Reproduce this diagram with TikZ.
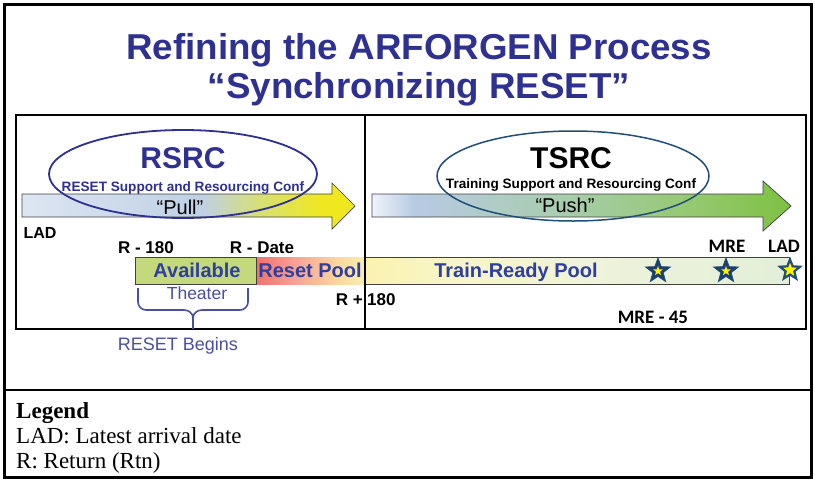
\documentclass[tikz,border=0pt]{standalone}
\usepackage{fontspec}
\setmainfont{Liberation Sans}
\newfontfamily\calib{Carlito}
\newfontfamily\tms{Liberation Serif}
\usetikzlibrary{shapes.geometric}

\definecolor{titleblue}{HTML}{2E3192}
\definecolor{barblue}{HTML}{2F3F9E}
\definecolor{softblue}{HTML}{4A4FA3}
\definecolor{ellblue}{HTML}{2E3192}
\definecolor{ellteal}{HTML}{1F4E79}
\definecolor{starnavy}{HTML}{1C3F6E}
\definecolor{availgreen}{HTML}{C4D97B}
\definecolor{edgegray}{HTML}{404040}

% colour stops for the shaded bands (path spans 25bp..75bp)
\definecolor{pullA}{HTML}{DDE6F2}
\definecolor{pullB}{HTML}{BFD0E5}
\definecolor{pullC}{HTML}{D8E070}
\definecolor{pullD}{HTML}{F0E81E}
\pgfdeclarehorizontalshading{pullshade}{100bp}{color(0bp)=(pullA); color(25bp)=(pullA); color(52bp)=(pullB); color(61bp)=(pullC); color(70bp)=(pullD); color(100bp)=(pullD)}

\definecolor{pushA}{HTML}{EFF3FA}
\definecolor{pushB}{HTML}{B8CAE4}
\definecolor{pushC}{HTML}{A9CDB0}
\definecolor{pushD}{HTML}{94C86E}
\definecolor{pushE}{HTML}{7CC142}
\pgfdeclarehorizontalshading{pushshade}{100bp}{color(0bp)=(pushA); color(25bp)=(pushA); color(30bp)=(pushB); color(47bp)=(pushC); color(64bp)=(pushD); color(75bp)=(pushE); color(100bp)=(pushE)}

\definecolor{resA}{HTML}{F07070}
\definecolor{resB}{HTML}{F6A898}
\definecolor{resC}{HTML}{FAD8A0}
\definecolor{resD}{HTML}{FBEFB0}
\pgfdeclarehorizontalshading{resetshade}{100bp}{color(0bp)=(resA); color(25bp)=(resA); color(45bp)=(resB); color(63bp)=(resC); color(75bp)=(resD); color(100bp)=(resD)}

\definecolor{trA}{HTML}{FBF2B0}
\definecolor{trB}{HTML}{F8F6C8}
\definecolor{trC}{HTML}{EEF3DA}
\definecolor{trD}{HTML}{E3EFD9}
\pgfdeclarehorizontalshading{trainshade}{100bp}{color(0bp)=(trA); color(25bp)=(trA); color(35bp)=(trB); color(52bp)=(trC); color(75bp)=(trD); color(100bp)=(trD)}

\tikzset{
  lbl/.style={anchor=base, inner sep=0pt},
  bigtitle/.style={lbl, font=\fontsize{36pt}{40pt}\selectfont\bfseries, text=titleblue, xscale=1.02},
  markbold/.style={lbl, font=\fontsize{17pt}{20pt}\selectfont\bfseries, text=black},
  calibbold/.style={lbl, font=\fontsize{19pt}{22pt}\selectfont\calib\bfseries, text=black},
  poolname/.style={lbl, font=\fontsize{20pt}{24pt}\selectfont\bfseries, text=barblue},
  confname/.style={lbl, font=\fontsize{13.6pt}{16pt}\selectfont\bfseries},
  legendtxt/.style={lbl, anchor=base west, font=\fontsize{23pt}{25pt}\selectfont\tms},
  arrowband/.style={draw=edgegray, line width=0.7pt},
  navystar/.style={star, star points=5, star point ratio=2.4, inner sep=0pt, minimum size=26pt, fill=starnavy, draw=ellteal, line width=0.8pt},
  yellowcore/.style={star, star points=5, star point ratio=2.4, inner sep=0pt, minimum size=10pt, fill=yellow},
  bracket/.style={softblue, line width=1.6pt},
}

\begin{document}
\begin{tikzpicture}[x=1pt, y=-1pt]
\useasboundingbox (0,0) rectangle (815,480);
\fill[white] (0,0) rectangle (815,480);

% outer frame and legend separator
\draw[line width=2.8pt] (4.5,4.5) rectangle (811.5,477.5);
\draw[line width=2pt] (4,390) -- (812,390);

% title
\node[bigtitle, transform shape] (title1) at (419,59) {Refining the ARFORGEN Process};
\node[bigtitle, transform shape] (title2) at (419,98) {“Synchronizing RESET”};

% pull / push arrows
\draw[arrowband, shading=pullshade] (22,194) -- (332,194) -- (332,183) -- (355,206) -- (332,229) -- (332,217) -- (22,217) -- cycle;
\draw[arrowband, shading=pushshade] (372,194) -- (763,194) -- (763,181) -- (791,206) -- (763,231) -- (763,217) -- (372,217) -- cycle;

\node[lbl, font=\fontsize{20pt}{24pt}\selectfont] (pull) at (180,214) {“Pull”};
\node[lbl, font=\fontsize{20pt}{24pt}\selectfont] (push) at (565,212) {“Push”};

% conference ellipses
\draw[ellblue, line width=1.8pt] (183,174) ellipse [x radius=134, y radius=44];
\draw[ellteal, line width=1.5pt] (573,176) ellipse [x radius=136, y radius=45];

\node[lbl, font=\fontsize{30pt}{34pt}\selectfont\bfseries, text=titleblue] (rsrc) at (183,168) {RSRC};
\node[confname, text=titleblue] (rsrcconf) at (183,191) {RESET Support and Resourcing Conf};
\node[lbl, font=\fontsize{30pt}{34pt}\selectfont\bfseries, text=black] (tsrc) at (571,168) {TSRC};
\node[confname, text=black] (tsrcconf) at (571,188) {Training Support and Resourcing Conf};

% timeline bar
\path[shading=resetshade] (256,257) rectangle (365,284);
\draw[edgegray, line width=0.9pt, shading=trainshade] (365,257) rectangle (789,284);
\draw[edgegray, line width=0.9pt, fill=availgreen] (135,257) rectangle (256,284);

\node[poolname] (avail) at (197,277) {Available};
\node[poolname] (resetpool) at (310,277) {Reset Pool};
\node[poolname] (trainpool) at (516,277) {Train-Ready Pool};

% inner panel and divider
\draw[line width=1.3pt] (16,115) rectangle (806,329);
\draw[line width=1.3pt] (365,115) -- (365,329);

% timeline markers
\node[markbold, font=\fontsize{16pt}{19pt}\selectfont\bfseries] (ladleft) at (40,238) {LAD};
\node[markbold] (r180) at (146,253) {R - 180};
\node[markbold] (rdate) at (262,253) {R - Date};
\node[markbold, anchor=base east] (rplus) at (363,305) {R +};
\node[markbold, anchor=base west] (rplusnum) at (367,305) {180};
\node[calibbold] (mre) at (727,252) {MRE};
\node[calibbold] (ladright) at (784,252) {LAD};
\node[calibbold] (mre45) at (653,323) {MRE - 45};

% stars
\node[navystar] (star1) at (658,271) {};
\node[yellowcore] (core1) at (star1) {};
\node[navystar] (star2) at (726,271) {};
\node[yellowcore] (core2) at (star2) {};
\node[star, star points=5, star point ratio=2.3, inner sep=0pt, minimum size=21pt, fill=yellow, draw=ellteal, line width=2.2pt] (star3) at (790,270) {};

% theater bracket
\node[lbl, font=\fontsize{17.5pt}{20pt}\selectfont, text=softblue] (theater) at (197,299) {Theater};
\node[lbl, font=\fontsize{18pt}{21pt}\selectfont, text=softblue] (begins) at (178,350) {RESET Begins};
\coordinate (brL) at (138,288);
\coordinate (brR) at (248,288);
\coordinate (brTip) at (193,329);
\draw[bracket] (brL) -- (138,302) to[out=-90,in=180] (146,310) -- (184,310) to[out=0,in=90] (193,318) -- (brTip);
\draw[bracket] (brR) -- (248,302) to[out=-90,in=0] (240,310) -- (202,310) to[out=180,in=90] (193,318);

% legend
\node[legendtxt, font=\fontsize{23pt}{25pt}\selectfont\tms\bfseries] (legendhead) at (16,418) {Legend};
\node[legendtxt] (legend1) at (16,443) {LAD: Latest arrival date};
\node[legendtxt] (legend2) at (16,468) {R: Return (Rtn)};
\end{tikzpicture}
\end{document}
